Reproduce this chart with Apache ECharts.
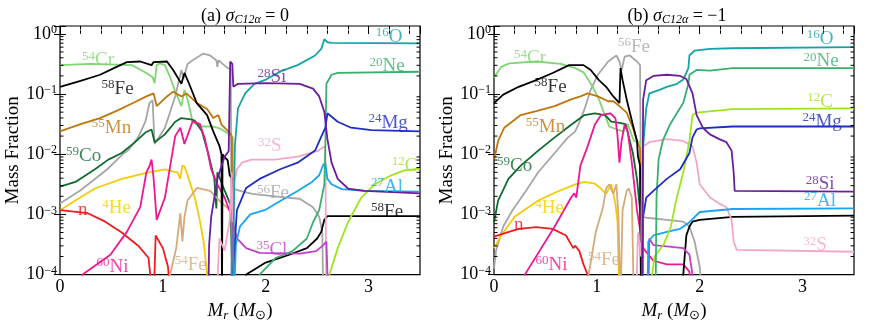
<!DOCTYPE html>
<html>
<head>
<meta charset="utf-8">
<title>Mass fraction profiles</title>
<script src="https://cdn.jsdelivr.net/npm/echarts@6/dist/echarts.min.js"></script>
<style>
    html, body { margin: 0; padding: 0; background: #fff; }
    #main { width: 872px; height: 327px; }
</style>
</head>
<body>
<div id="main"></div>
<script>
    // values are log10(mass fraction) vs M_r
    // ---- panel (a) sigma = 0 ----
    var a_Cr54 = [[0,-0.52],[0.3,-0.5],[0.7,-0.52],[0.84,-0.65],[0.9,-0.72],[0.92,-0.82],[0.94,-0.52],[0.97,-0.49],[1.02,-0.52],[1.07,-0.72],[1.13,-1.0],[1.18,-1.2],[1.21,-0.93],[1.24,-1.09],[1.29,-1.46],[1.36,-1.54],[1.49,-1.54],[1.55,-1.57],[1.65,-1.67],[1.68,-1.72],[1.69,-4.5]];
    var a_Fe58 = [[0,-0.88],[0.2,-0.78],[0.39,-0.68],[0.55,-0.55],[0.65,-0.47],[0.78,-0.46],[0.89,-0.52],[0.91,-0.47],[1.04,-0.46],[1.1,-0.6],[1.18,-0.83],[1.21,-0.65],[1.26,-0.85],[1.33,-1.15],[1.43,-1.35],[1.49,-1.62],[1.55,-1.86],[1.57,-2.0],[1.575,-4.5],[1.58,-2.0],[1.6,-2.05],[1.63,-2.1],[1.65,-2.35],[1.67,-2.4],[1.68,-4.5],[1.8,-4.5],[1.81,-4.0],[2.0,-3.8],[2.23,-3.67],[2.4,-3.56],[2.5,-3.4],[2.54,-3.29],[2.57,-3.09],[2.6,-3.03],[3.5,-3.03]];
    var a_Mn55 = [[0,-1.62],[0.2,-1.5],[0.39,-1.4],[0.55,-1.28],[0.71,-1.15],[0.84,-1.04],[0.91,-0.99],[0.94,-1.2],[1.04,-1.04],[1.1,-0.96],[1.18,-1.04],[1.23,-0.99],[1.33,-1.15],[1.43,-1.25],[1.49,-1.4],[1.54,-1.35],[1.57,-1.51],[1.65,-1.64],[1.67,-1.7],[1.68,-4.5]];
    var a_Fe56 = [[0,-2.82],[0.2,-2.6],[0.46,-2.25],[0.61,-2.0],[0.66,-1.94],[0.76,-1.72],[0.83,-1.46],[0.87,-1.15],[0.9,-1.1],[0.92,-1.83],[1.02,-1.56],[1.12,-1.04],[1.18,-0.6],[1.2,-0.75],[1.24,-0.5],[1.29,-0.44],[1.39,-0.33],[1.46,-0.36],[1.52,-0.44],[1.53,-0.55],[1.54,-0.44],[1.63,-0.57],[1.66,-0.58],[1.67,-4.5],[1.68,-2.57],[1.75,-2.61],[1.87,-2.66],[2.2,-2.72],[2.33,-2.74],[2.46,-2.88],[2.52,-3.04],[2.55,-3.29],[2.56,-4.5]];
    var a_Co59 = [[0,-2.54],[0.15,-2.46],[0.34,-2.25],[0.47,-2.09],[0.6,-1.98],[0.73,-1.8],[0.83,-1.64],[0.89,-1.59],[0.92,-1.8],[1.02,-1.67],[1.12,-1.46],[1.18,-1.4],[1.27,-1.42],[1.31,-1.44],[1.38,-1.62],[1.44,-1.98],[1.5,-2.4],[1.52,-2.9],[1.53,-2.3],[1.6,-2.6],[1.66,-2.85],[1.68,-4.5]];
    var a_Ni60 = [[0.15,-4.3],[0.22,-4.0],[0.49,-3.67],[0.65,-3.29],[0.78,-2.88],[0.84,-2.3],[0.87,-2.2],[0.89,-2.09],[0.91,-2.4],[0.94,-3.09],[1.02,-2.72],[1.12,-1.7],[1.17,-1.56],[1.21,-1.83],[1.29,-1.45],[1.36,-1.5],[1.41,-1.75],[1.47,-2.25],[1.53,-2.5],[1.6,-2.72],[1.67,-3.04],[1.68,-4.5]];
    var a_He4 = [[0,-2.93],[0.15,-2.77],[0.34,-2.57],[0.6,-2.41],[0.86,-2.3],[1.02,-2.25],[1.14,-2.3],[1.17,-2.41],[1.19,-2.19],[1.21,-2.2],[1.24,-2.35],[1.31,-2.72],[1.36,-3.1],[1.4,-3.5],[1.43,-4.0],[1.44,-4.5]];
    var a_n = [[0,-2.93],[0.27,-2.98],[0.44,-3.12],[0.6,-3.3],[0.76,-3.52],[0.86,-3.72],[0.89,-4.2],[0.915,-4.2],[0.93,-3.35],[1.0,-3.56],[1.05,-3.87],[1.07,-4.3]];
    var a_Fe54 = [[1.06,-4.3],[1.07,-4.0],[1.13,-3.56],[1.17,-2.98],[1.19,-3.45],[1.21,-3.04],[1.24,-2.77],[1.33,-2.56],[1.46,-2.61],[1.55,-2.77],[1.65,-2.93],[1.67,-3.0],[1.68,-4.5]];
    var a_Si28 = [[1.44,-4.5],[1.45,-3.5],[1.47,-3.04],[1.53,-2.41],[1.6,-2.04],[1.64,-1.95],[1.655,-0.46],[1.675,-0.5],[1.685,-0.88],[1.7,-0.85],[1.73,-0.83],[2.01,-0.82],[2.33,-0.83],[2.46,-0.91],[2.52,-1.04],[2.57,-1.3],[2.6,-1.75],[2.64,-2.14],[2.7,-2.41],[2.8,-2.57],[2.96,-2.61],[3.5,-2.65]];
    var a_O16 = [[1.68,-4.5],[1.69,-3.0],[1.7,-1.87],[1.73,-1.24],[1.8,-0.99],[1.89,-0.83],[1.99,-0.77],[2.15,-0.62],[2.31,-0.52],[2.48,-0.36],[2.54,-0.25],[2.57,-0.09],[2.6,-0.14],[2.64,-0.15],[3.5,-0.16]];
    var a_Ne20 = [[1.92,-4.3],[1.94,-4.0],[2.1,-3.72],[2.26,-3.61],[2.4,-3.4],[2.46,-3.13],[2.52,-2.93],[2.57,-2.5],[2.58,-1.87],[2.59,-0.83],[2.64,-0.68],[2.7,-0.65],[3.5,-0.63]];
    var a_Mg24 = [[1.67,-4.5],[1.68,-4.0],[1.72,-2.93],[1.81,-2.56],[1.94,-2.41],[2.14,-2.25],[2.31,-2.14],[2.48,-1.94],[2.55,-1.67],[2.58,-1.56],[2.6,-1.32],[2.7,-1.46],[2.83,-1.56],[3.03,-1.6],[3.5,-1.62]];
    var a_S32 = [[1.52,-4.5],[1.55,-3.4],[1.6,-3.6],[1.65,-3.1],[1.67,-2.3],[1.68,-4.5],[1.69,-2.5],[1.72,-2.25],[1.77,-2.14],[1.86,-2.09],[2.09,-2.09],[2.31,-2.04],[2.5,-1.95],[2.57,-1.87],[2.58,-1.95],[2.59,-4.5]];
    var a_Al27 = [[1.69,-4.5],[1.71,-3.5],[1.75,-3.2],[1.85,-3.0],[1.99,-2.93],[2.15,-2.77],[2.31,-2.61],[2.45,-2.46],[2.52,-2.35],[2.56,-2.17],[2.58,-2.15],[2.6,-2.41],[2.64,-2.5],[2.74,-2.58],[2.96,-2.61],[3.5,-2.62]];
    var a_Cl35 = [[1.66,-4.5],[1.68,-3.13],[1.72,-3.4],[1.81,-3.56],[1.94,-3.64],[2.33,-3.65],[2.49,-3.61],[2.56,-3.51],[2.59,-3.45],[2.61,-4.5]];
    var a_C12 = [[2.61,-4.5],[2.62,-4.0],[2.7,-3.56],[2.8,-3.13],[2.93,-2.72],[3.06,-2.5],[3.22,-2.35],[3.35,-2.27],[3.5,-2.24]];

    // ---- panel (b) sigma = -1 ----
    var b_Cr54 = [[0,-0.72],[0.07,-0.55],[0.15,-0.49],[0.41,-0.46],[0.65,-0.5],[0.79,-0.57],[0.87,-0.64],[0.96,-0.88],[1.02,-1.09],[1.09,-1.4],[1.12,-1.54],[1.2,-1.59],[1.26,-1.62],[1.3,-1.5],[1.36,-1.78],[1.42,-1.8],[1.43,-4.5]];
    var b_Fe58 = [[0,-1.15],[0.09,-1.01],[0.24,-0.88],[0.41,-0.77],[0.57,-0.65],[0.73,-0.52],[0.87,-0.52],[0.94,-0.6],[1.02,-0.77],[1.09,-0.88],[1.16,-1.04],[1.22,-1.15],[1.23,-0.57],[1.25,-0.77],[1.29,-1.09],[1.35,-1.51],[1.39,-1.78],[1.4,-2.04],[1.42,-2.19],[1.43,-4.5],[1.83,-4.5],[1.84,-4.0],[1.87,-3.35],[1.9,-3.2],[1.93,-3.12],[2.0,-3.09],[2.32,-3.04],[3.5,-3.02]];
    var b_Mn55 = [[0,-2.1],[0.04,-1.78],[0.1,-1.56],[0.26,-1.35],[0.42,-1.28],[0.59,-1.2],[0.75,-1.09],[0.84,-1.04],[0.91,-0.99],[1.01,-1.04],[1.11,-1.12],[1.16,-1.12],[1.22,-1.2],[1.29,-1.31],[1.35,-1.56],[1.4,-1.83],[1.42,-1.9],[1.43,-4.5]];
    var b_Fe56 = [[0,-3.9],[0.02,-3.6],[0.09,-3.2],[0.18,-2.93],[0.31,-2.61],[0.43,-2.3],[0.59,-1.98],[0.72,-1.72],[0.79,-1.62],[0.82,-1.51],[0.88,-1.25],[0.94,-0.93],[1.01,-0.68],[1.11,-0.46],[1.19,-0.36],[1.22,-0.46],[1.24,-0.61],[1.27,-0.38],[1.32,-0.36],[1.39,-0.46],[1.42,-0.52],[1.43,-3.04],[1.51,-3.06],[1.68,-3.09],[1.84,-3.12],[1.9,-3.2],[1.95,-3.45],[2.0,-3.87],[2.03,-4.5]];
    var b_Co59 = [[0,-3.13],[0.04,-2.77],[0.14,-2.41],[0.26,-2.19],[0.43,-1.94],[0.59,-1.72],[0.75,-1.51],[0.88,-1.35],[0.98,-1.32],[1.08,-1.35],[1.14,-1.46],[1.22,-1.48],[1.28,-1.5],[1.35,-1.98],[1.39,-2.41],[1.42,-2.93],[1.44,-3.6],[1.45,-4.5]];
    var b_Ni60 = [[0.25,-4.5],[0.3,-4.0],[0.59,-3.2],[0.75,-2.72],[0.78,-2.65],[0.8,-2.72],[0.84,-2.19],[0.91,-1.87],[0.98,-1.51],[1.04,-1.35],[1.13,-1.32],[1.18,-1.4],[1.2,-1.67],[1.22,-2.14],[1.24,-1.78],[1.27,-1.51],[1.3,-1.62],[1.34,-2.14],[1.39,-2.93],[1.45,-3.56],[1.55,-3.77],[1.68,-3.83],[1.84,-3.83],[1.9,-3.95],[1.92,-4.5]];
    var b_He4 = [[0,-3.56],[0.07,-3.35],[0.2,-3.04],[0.43,-2.77],[0.59,-2.64],[0.79,-2.5],[0.88,-2.46],[0.98,-2.49],[1.04,-2.57],[1.09,-2.66],[1.14,-2.5],[1.18,-2.82],[1.2,-3.1],[1.22,-4.5]];
    var b_n = [[0,-3.37],[0.09,-3.32],[0.24,-3.24],[0.41,-3.21],[0.57,-3.24],[0.7,-3.35],[0.77,-3.56],[0.79,-3.52],[0.83,-3.61],[0.87,-3.83],[0.91,-4.0],[0.92,-4.5]];
    var b_Fe54 = [[0.91,-4.5],[0.92,-4.0],[0.99,-3.29],[1.06,-2.88],[1.09,-2.57],[1.12,-2.5],[1.16,-2.66],[1.19,-2.5],[1.21,-3.04],[1.23,-4.5],[1.25,-2.93],[1.29,-2.61],[1.31,-2.57],[1.34,-2.72],[1.36,-4.5]];
    var b_Si28 = [[1.44,-4.5],[1.45,-1.09],[1.48,-0.77],[1.55,-0.7],[1.68,-0.68],[1.81,-0.7],[1.87,-0.75],[1.93,-0.99],[1.97,-1.35],[2.03,-1.56],[2.1,-1.67],[2.19,-1.75],[2.26,-1.8],[2.31,-1.94],[2.33,-2.3],[2.34,-2.61],[3.5,-2.62]];
    var b_O16 = [[1.44,-4.5],[1.45,-1.87],[1.48,-1.24],[1.51,-0.99],[1.61,-0.93],[1.68,-0.88],[1.78,-0.83],[1.84,-0.76],[1.89,-0.57],[1.9,-0.36],[1.95,-0.28],[2.1,-0.25],[2.32,-0.24],[3.5,-0.22]];
    var b_Ne20 = [[1.57,-4.5],[1.58,-2.72],[1.6,-2.09],[1.64,-1.78],[1.71,-1.51],[1.78,-1.31],[1.84,-1.15],[1.89,-0.83],[1.9,-0.68],[1.97,-0.6],[2.1,-0.61],[2.32,-0.57],[3.5,-0.57]];
    var b_C12 = [[1.5,-4.5],[1.56,-3.7],[1.65,-3.5],[1.72,-3.2],[1.77,-2.77],[1.84,-2.3],[1.9,-1.78],[1.93,-1.35],[1.97,-1.31],[2.32,-1.25],[3.5,-1.24]];
    var b_Mg24 = [[1.44,-4.5],[1.45,-3.04],[1.48,-2.72],[1.55,-2.61],[1.68,-2.41],[1.81,-2.25],[1.9,-1.98],[1.93,-1.72],[1.97,-1.59],[2.0,-1.57],[2.32,-1.54],[3.5,-1.54]];
    var b_S32 = [[1.38,-4.5],[1.4,-3.3],[1.43,-3.7],[1.44,-2.0],[1.45,-1.87],[1.51,-1.8],[1.68,-1.75],[1.84,-1.78],[1.93,-1.87],[1.97,-2.14],[2.0,-2.5],[2.1,-2.72],[2.19,-2.82],[2.26,-2.88],[2.31,-3.09],[2.33,-3.45],[2.36,-3.59],[3.5,-3.62]];
    var b_Al27 = [[1.49,-4.5],[1.5,-3.45],[1.55,-3.35],[1.68,-3.29],[1.81,-3.24],[1.9,-3.13],[2.0,-2.96],[2.32,-2.91],[3.5,-2.9]];
    var b_Cl35 = [[1.5,-4.5],[1.51,-3.4],[1.55,-3.51],[1.68,-3.53],[1.84,-3.56],[1.9,-3.67],[1.93,-4.0],[1.94,-4.5]];

    // curve labels: [mass number, element, x, log10 y, species key]
    var labelsA = [['54','Cr',0.37,-0.44,'Cr54'],['58','Fe',0.56,-0.91,'Fe58'],['55','Mn',0.5,-1.56,'Mn55'],['59','Co',0.23,-2.03,'Co59'],
        ['4','He',0.55,-2.9,'He4'],['','n',0.22,-2.93,'n'],['60','Ni',0.51,-3.87,'Ni60'],['54','Fe',1.27,-3.84,'Fe54'],
        ['28','Si',2.06,-0.72,'Si28'],['16','O',3.2,-0.05,'O16'],['20','Ne',3.18,-0.54,'Ne20'],['24','Mg',3.19,-1.48,'Mg24'],
        ['32','S',2.04,-1.87,'S32'],['12','C',3.35,-2.19,'C12'],['27','Al',3.18,-2.54,'Al27'],['56','Fe',2.07,-2.65,'Fe56'],
        ['58','Fe',3.18,-2.96,'Fe58'],['35','Cl',2.06,-3.59,'Cl35']];
    var labelsB = [['54','Cr',0.35,-0.41,'Cr54'],['56','Fe',1.36,-0.22,'Fe56'],['58','Fe',0.55,-0.88,'Fe58'],['55','Mn',0.5,-1.54,'Mn55'],
        ['16','O',3.17,-0.08,'O16'],['20','Ne',3.18,-0.46,'Ne20'],['12','C',3.17,-1.13,'C12'],['24','Mg',3.19,-1.46,'Mg24'],
        ['59','Co',0.2,-2.19,'Co59'],['4','He',0.54,-2.9,'He4'],['','n',0.24,-3.17,'n'],['60','Ni',0.56,-3.84,'Ni60'],
        ['54','Fe',1.07,-3.76,'Fe54'],['28','Si',3.17,-2.5,'Si28'],['27','Al',3.17,-2.77,'Al27'],['32','S',3.12,-3.51,'S32']];

    var xTicks = [0, 1, 2, 3];
    var yDecades = [-4, -3, -2, -1, 0];
    var minorMult = [2, 3, 4, 5, 6, 7, 8, 9];

    var colors = {
        O16: '#17a2a8', Ne20: '#38b06c', C12: '#9ee51e', Mg24: '#1e2dc2', Si28: '#6a1d9c', Al27: '#18a4ee',
        S32: '#f4a6c8', Fe56: '#a6a6a6', Fe58: '#000000', Cl35: '#c040c8', Cr54: '#7fd672', Mn55: '#c0760c',
        Co59: '#0f6a2e', He4: '#f2cc0a', n: '#ee1c1c', Ni60: '#ef1791', Fe54: '#d4aa7a'
    };

    var seriesA = [['Fe56',a_Fe56],['Cr54',a_Cr54],['Mn55',a_Mn55],['Co59',a_Co59],['He4',a_He4],['n',a_n],['Fe54',a_Fe54],
        ['Ni60',a_Ni60],['Fe58',a_Fe58],['S32',a_S32],['Cl35',a_Cl35],['Al27',a_Al27],['C12',a_C12],['Ne20',a_Ne20],
        ['Mg24',a_Mg24],['O16',a_O16],['Si28',a_Si28]];
    var seriesB = [['Fe56',b_Fe56],['Cr54',b_Cr54],['Mn55',b_Mn55],['Co59',b_Co59],['He4',b_He4],['n',b_n],['Fe54',b_Fe54],
        ['Ni60',b_Ni60],['Fe58',b_Fe58],['S32',b_S32],['Cl35',b_Cl35],['Al27',b_Al27],['C12',b_C12],['Ne20',b_Ne20],
        ['Mg24',b_Mg24],['O16',b_O16],['Si28',b_Si28]];

    var FONT = '"Liberation Serif", "Times New Roman", serif';
    var YMIN = -4, YMAX = 0.13;

    var chart = echarts.init(document.getElementById('main'));

    function lineSeries(key, data, panel) {
        return {
            type: 'line', name: key, data: data, xAxisIndex: panel, yAxisIndex: panel,
            symbol: 'none', clip: true, silent: true, animation: false, z: 2,
            lineStyle: {color: colors[key], width: 1.8}, itemStyle: {color: colors[key]}
        };
    }

    var labelRich = {
        s: {fontSize: 13, fontFamily: FONT, verticalAlign: 'top', lineHeight: 12},
        t: {fontSize: 19, fontFamily: FONT, lineHeight: 21}
    };
    function labelSeries(labels, panel) {
        return {
            type: 'scatter', xAxisIndex: panel, yAxisIndex: panel, symbolSize: 0, silent: true, animation: false, z: 5,
            data: labels.map(function (l) {
                return {
                    value: [l[2], l[3]],
                    label: {
                        show: true, position: 'inside', color: colors[l[4]],
                        formatter: (l[0] ? '{s|' + l[0] + '}' : '') + '{t|' + l[1] + '}', rich: labelRich
                    }
                };
            })
        };
    }

    // log minor ticks on left and right edges
    var minorY = [];
    yDecades.forEach(function (d) {
        minorMult.forEach(function (m) {
            var v = d + Math.log10(m);
            if (v < YMAX) minorY.push([0, v]);
        });
    });
    function minorTickSeries(panel) {
        return {
            type: 'custom', xAxisIndex: panel, yAxisIndex: panel, silent: true, animation: false, z: 6,
            data: minorY,
            renderItem: function (params, api) {
                var cs = params.coordSys;
                var y = api.coord([0, api.value(1)])[1];
                return {
                    type: 'group', children: [
                        {type: 'line', shape: {x1: cs.x, y1: y, x2: cs.x + 3.5, y2: y}, style: {stroke: '#000', lineWidth: 1}},
                        {type: 'line', shape: {x1: cs.x + cs.width, y1: y, x2: cs.x + cs.width - 3.5, y2: y}, style: {stroke: '#000', lineWidth: 1}}
                    ]
                };
            }
        };
    }

    function xAx(grid, pos, interval, len, withLabels) {
        var ax = {
            type: 'value', gridIndex: grid, position: pos, min: 0, max: 3.5, interval: interval,
            axisLine: {show: false}, splitLine: {show: false},
            axisTick: {show: true, inside: true, length: len, lineStyle: {color: '#000', width: 1}},
            axisLabel: {show: false}
        };
        if (withLabels) {
            ax.axisLabel = {
                show: true, fontFamily: FONT, fontSize: 18, color: '#000', margin: 4,
                formatter: function (v) { return xTicks.indexOf(v) >= 0 ? String(v) : ''; }
            };
            ax.name = '{i|M}{subi|r}{n| (}{i|M}{sub|\u2299}{n|)}';
            ax.nameLocation = 'middle';
            ax.nameGap = 14;
            ax.nameTextStyle = {
                color: '#000', fontFamily: FONT, fontSize: 19,
                rich: {
                    i: {fontStyle: 'italic', fontSize: 19, fontFamily: FONT, lineHeight: 22},
                    n: {fontSize: 19, fontFamily: FONT, lineHeight: 22},
                    subi: {fontStyle: 'italic', fontSize: 13, fontFamily: FONT, verticalAlign: 'bottom', lineHeight: 13},
                    sub: {fontSize: 13, fontFamily: FONT, verticalAlign: 'bottom', lineHeight: 13}
                }
            };
        }
        return ax;
    }
    function yAx(grid, pos, withLabels) {
        var ax = {
            type: 'value', gridIndex: grid, position: pos, min: YMIN, max: YMAX, interval: 1,
            axisLine: {show: false}, splitLine: {show: false},
            axisTick: {show: true, inside: true, length: 6, lineStyle: {color: '#000', width: 1}},
            axisLabel: {show: false}
        };
        if (withLabels) {
            ax.axisLabel = {
                show: true, color: '#000', margin: 3,
                formatter: function (v) {
                    if (yDecades.indexOf(v) < 0) return '';
                    return '{b|10}{e|' + (v < 0 ? '\u2212' + (-v) : v) + '}';
                },
                rich: {
                    b: {fontSize: 18, fontFamily: FONT, lineHeight: 20},
                    e: {fontSize: 12, fontFamily: FONT, verticalAlign: 'top', lineHeight: 12}
                }
            };
            ax.name = 'Mass Fraction';
            ax.nameLocation = 'middle';
            ax.nameGap = 36;
            ax.nameTextStyle = {color: '#000', fontFamily: FONT, fontSize: 19};
        }
        return ax;
    }

    var titleRich = {
        n: {fontSize: 18, fontFamily: FONT, fontWeight: 'normal', lineHeight: 20, color: '#000'},
        i: {fontSize: 18, fontFamily: FONT, fontWeight: 'normal', fontStyle: 'italic', lineHeight: 20, color: '#000'},
        sub: {fontSize: 12, fontFamily: FONT, fontWeight: 'normal', fontStyle: 'italic', verticalAlign: 'bottom', lineHeight: 12, color: '#000'}
    };

    var series = [];
    seriesA.forEach(function (s) { series.push(lineSeries(s[0], s[1], 0)); });
    seriesB.forEach(function (s) { series.push(lineSeries(s[0], s[1], 1)); });
    series.push(labelSeries(labelsA, 0), labelSeries(labelsB, 1), minorTickSeries(0), minorTickSeries(1));

    chart.setOption({
        animation: false,
        backgroundColor: '#fff',
        title: [
            {text: '{n|(a) }{i|\u03c3}{sub|C12\u03b1}{n| = 0}', left: 240, top: 1, textAlign: 'center', textStyle: {fontWeight: 'normal', rich: titleRich}},
            {text: '{n|(b) }{i|\u03c3}{sub|C12\u03b1}{n| = \u22121}', left: 672, top: 1, textAlign: 'center', textStyle: {fontWeight: 'normal', rich: titleRich}}
        ],
        grid: [
            {left: 60, top: 26, width: 360, height: 262, show: true, borderColor: '#000', borderWidth: 1.2, backgroundColor: 'transparent'},
            {left: 494, top: 26, width: 360, height: 262, show: true, borderColor: '#000', borderWidth: 1.2, backgroundColor: 'transparent'}
        ],
        xAxis: [
            xAx(0, 'bottom', 1, 6, true), xAx(1, 'bottom', 1, 6, true),
            xAx(0, 'bottom', 0.2, 3.5, false), xAx(1, 'bottom', 0.2, 3.5, false),
            xAx(0, 'top', 1, 6, false), xAx(1, 'top', 1, 6, false),
            xAx(0, 'top', 0.2, 3.5, false), xAx(1, 'top', 0.2, 3.5, false)
        ],
        yAxis: [
            yAx(0, 'left', true), yAx(1, 'left', true),
            yAx(0, 'right', false), yAx(1, 'right', false)
        ],
        series: series
    });
</script>
</body>
</html>
